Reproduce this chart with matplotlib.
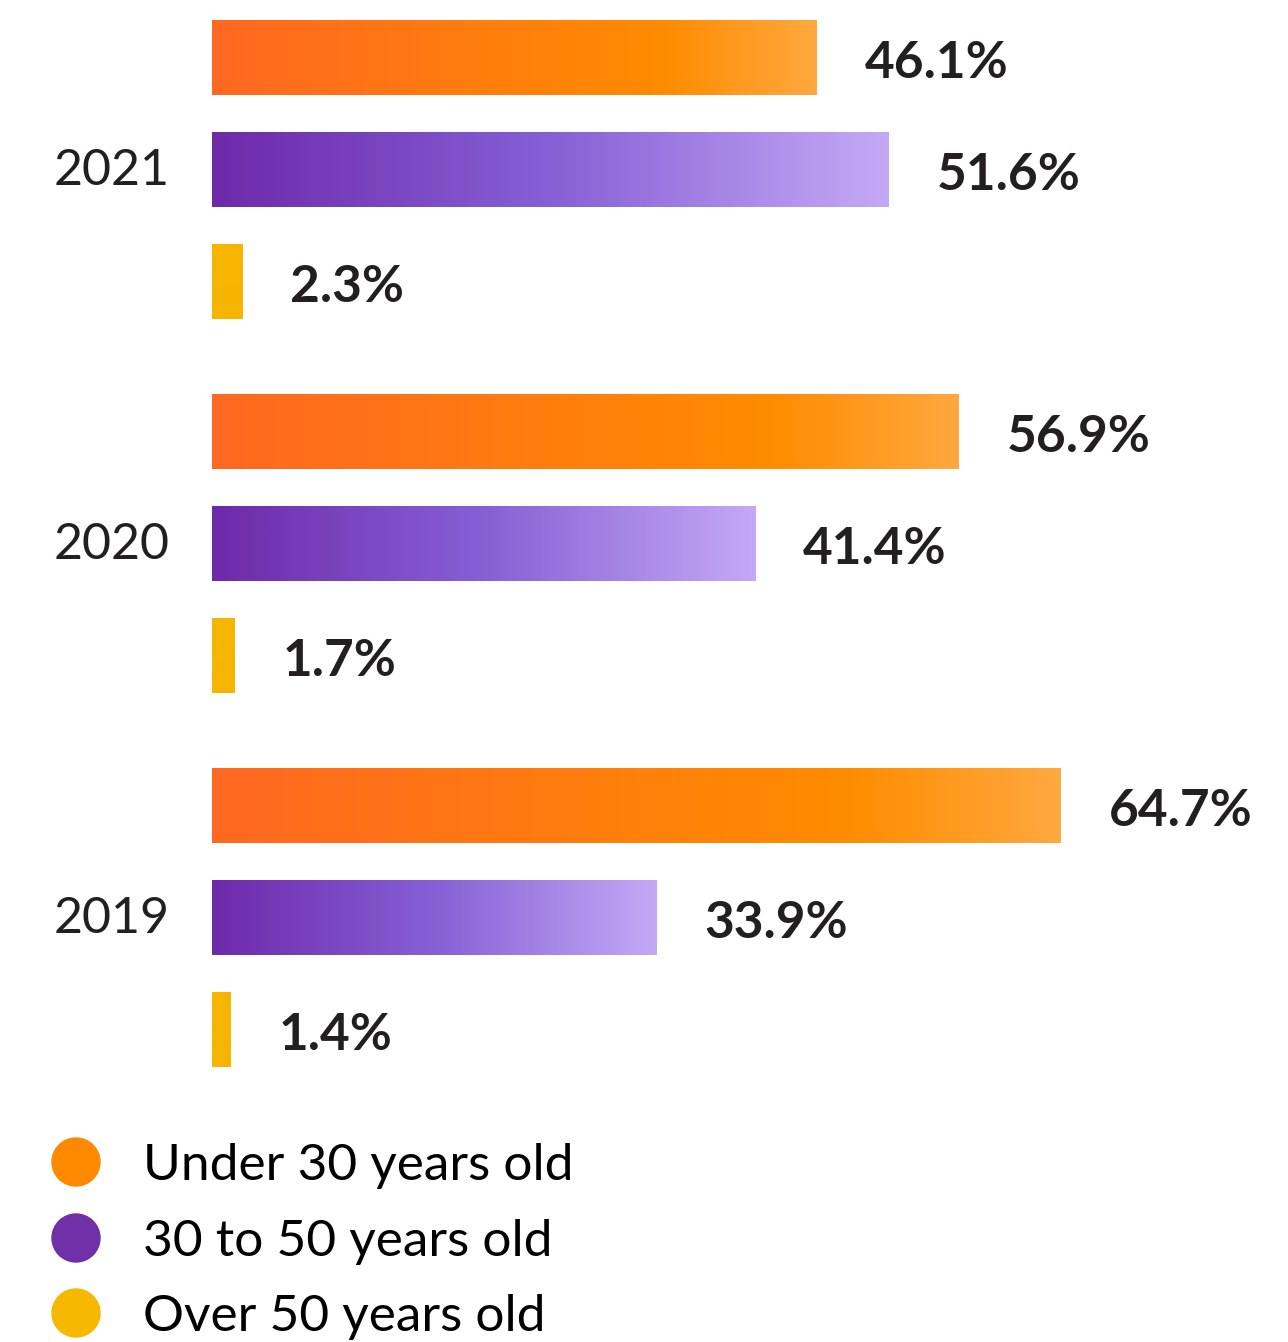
import numpy as np
import matplotlib
matplotlib.use("Agg")
import matplotlib.pyplot as plt
from matplotlib.colors import LinearSegmentedColormap
from matplotlib.patches import Ellipse

# Share of employees by age group, per year
years = ["2021", "2020", "2019"]
series = ["Under 30 years old", "30 to 50 years old", "Over 50 years old"]
under_30 = [46.1, 56.9, 64.7]
from_30_to_50 = [51.6, 41.4, 33.9]
over_50 = [2.3, 1.7, 1.4]
values = [under_30, from_30_to_50, over_50]

# Bar fills: gradients for the first two groups, solid for the last
cmaps = [
    LinearSegmentedColormap.from_list(
        "orange", [(0, "#FF6821"), (0.75, "#FF8C00"), (1, "#FFA83F")]),
    LinearSegmentedColormap.from_list(
        "purple", [(0, "#6E2AA8"), (0.5, "#8660D4"), (1, "#C4A9F6")]),
    LinearSegmentedColormap.from_list("yellow", ["#F6B500", "#F6B500"]),
]
legend_colors = ["#FF8A00", "#7030A8", "#F6B800"]
text_color = "#231F20"

W, H = 1288, 1342
fig = plt.figure(figsize=(W / 100, H / 100), dpi=100)
fig.patch.set_facecolor("white")

# Axes: x in percent (x=0 at 212 px, 13.12 px per percent), y in pixels from top
left_px = 212
px_per_pct = 13.12
ax_top, ax_bottom = 0, 1100
ax = fig.add_axes([left_px / W, 1 - ax_bottom / H, (W - left_px) / W, (ax_bottom - ax_top) / H])
ax.axis("off")

first_center = 58
row_gap = 112
group_gap = 374
bar_h = 75

gradient = np.linspace(0, 1, 256).reshape(1, -1)
for g, year in enumerate(years):
    for s in range(3):
        v = values[s][g]
        yc = first_center + g * group_gap + s * row_gap
        ax.imshow(gradient, cmap=cmaps[s], aspect="auto", interpolation="bicubic",
                  extent=(0, v, yc + bar_h / 2, yc - bar_h / 2), zorder=2)
        ax.text(v + 48 / px_per_pct, yc + 6, f"{v}%", fontsize=37, fontweight="bold",
                family="Lato", color=text_color, ha="left", va="center")
    yc_mid = first_center + g * group_gap + row_gap
    ax.text(-158 / px_per_pct, yc_mid + 1, year, fontsize=36, family="Lato",
            color=text_color, ha="left", va="center")

ax.set_xlim(0, (W - left_px) / px_per_pct)
ax.set_ylim(ax_bottom, ax_top)

# Legend
legend_y = [1162, 1238, 1313]
r = 24
for lab, col, ly in zip(series, legend_colors, legend_y):
    fig.add_artist(Ellipse((76 / W, 1 - ly / H), 2 * r / W, 2 * r / H,
                           transform=fig.transFigure, color=col))
    fig.text(143 / W, 1 - (ly + 4) / H, lab, fontsize=37, family="Lato",
             color="black", ha="left", va="center")

fig.savefig("out.png", dpi=100, facecolor="white")
